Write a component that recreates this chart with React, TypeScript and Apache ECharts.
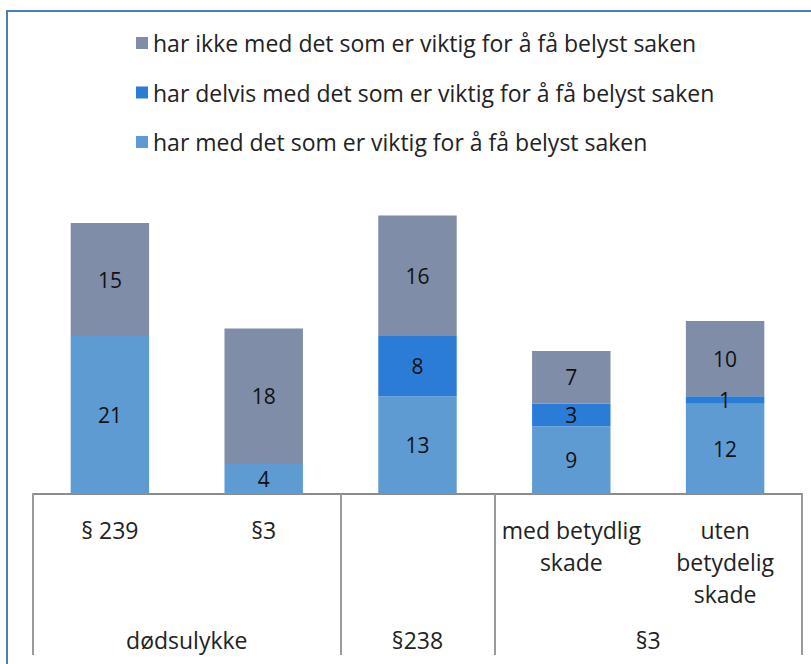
import React, { useEffect, useRef } from "react";
import * as echarts from "echarts";

const categories = ["§ 239", "§3", "", "med betydlig\nskade", "uten\nbetydelig\nskade"];
const groupLabels = ["dødsulykke", "§238", "§3"];
const groupCenters = [1, 2.5, 4];
const groupBounds = [0, 2, 3, 5];

const seriesNames = [
  "har med det som er viktig for å få belyst saken",
  "har delvis med det som er viktig for å få belyst saken",
  "har ikke med det som er viktig for å få belyst saken",
];
const medValues = [21, 4, 13, 9, 12];
const delvisValues = [0, 0, 8, 3, 1];
const ikkeValues = [15, 18, 16, 7, 10];

const colors = ["#5f9bd3", "#2a7cd7", "#7f8da8"];
const FONT = "Open Sans";

export default function App() {
  const ref = useRef<HTMLDivElement>(null);
  useEffect(() => {
    if (!ref.current) return;
    const chart = echarts.init(ref.current, null, { renderer: "svg" });
    const valueLists = [medValues, delvisValues, ikkeValues];
    chart.setOption({
      animation: false,
      backgroundColor: "#ffffff",
      textStyle: { fontFamily: FONT },
      graphic: [
        {
          type: "rect",
          shape: { x: 7, y: 11, width: 1000, height: 1000 },
          style: { fill: "none", stroke: "#4a7ebb", lineWidth: 2 },
          silent: true,
        },
      ],
      legend: {
        orient: "vertical",
        left: 131,
        top: 25,
        itemWidth: 12,
        itemHeight: 12,
        itemGap: 23.5,
        icon: "rect",
        data: [seriesNames[2], seriesNames[1], seriesNames[0]],
        textStyle: { fontFamily: FONT, fontSize: 23, color: "#222", lineHeight: 26 },
      },
      grid: { left: 33, right: 9, top: 193, bottom: 170 },
      xAxis: [
        {
          type: "category",
          data: categories,
          position: "bottom",
          axisLine: { show: true, lineStyle: { color: "#8c8c8c", width: 2 } },
          axisTick: { show: false },
          axisLabel: {
            interval: 0,
            margin: 20,
            fontFamily: FONT,
            fontSize: 23,
            color: "#222",
            lineHeight: 32,
          },
        },
        {
          type: "value",
          min: 0,
          max: 5,
          position: "bottom",
          axisLine: { show: false },
          splitLine: { show: false },
          axisTick: {
            show: true,
            customValues: groupBounds,
            length: 161,
            lineStyle: { color: "#9a9a9a", width: 2 },
          },
          axisLabel: {
            customValues: groupCenters,
            margin: 131,
            fontFamily: FONT,
            fontSize: 23,
            color: "#222",
            lineHeight: 30,
            formatter: (v: number) => {
              const i = groupCenters.indexOf(v);
              return i >= 0 ? groupLabels[i] : "";
            },
          },
        },
      ],
      yAxis: { type: "value", min: 0, max: 40, show: false, splitLine: { show: false } },
      series: valueLists.map((vals, i) => ({
        name: seriesNames[i],
        type: "bar",
        stack: "total",
        xAxisIndex: 0,
        barWidth: "51%",
        data: vals,
        itemStyle: { color: colors[i] },
        label: {
          show: true,
          position: "inside",
          fontFamily: FONT,
          fontSize: 21,
          color: "#111",
          formatter: (p: any) => (p.value ? String(p.value) : ""),
        },
      })),
    });
    return () => chart.dispose();
  }, []);
  return (
    <div
      ref={ref}
      style={{ position: "fixed", left: 0, top: 0, width: 811, height: 664 }}
    />
  );
}
